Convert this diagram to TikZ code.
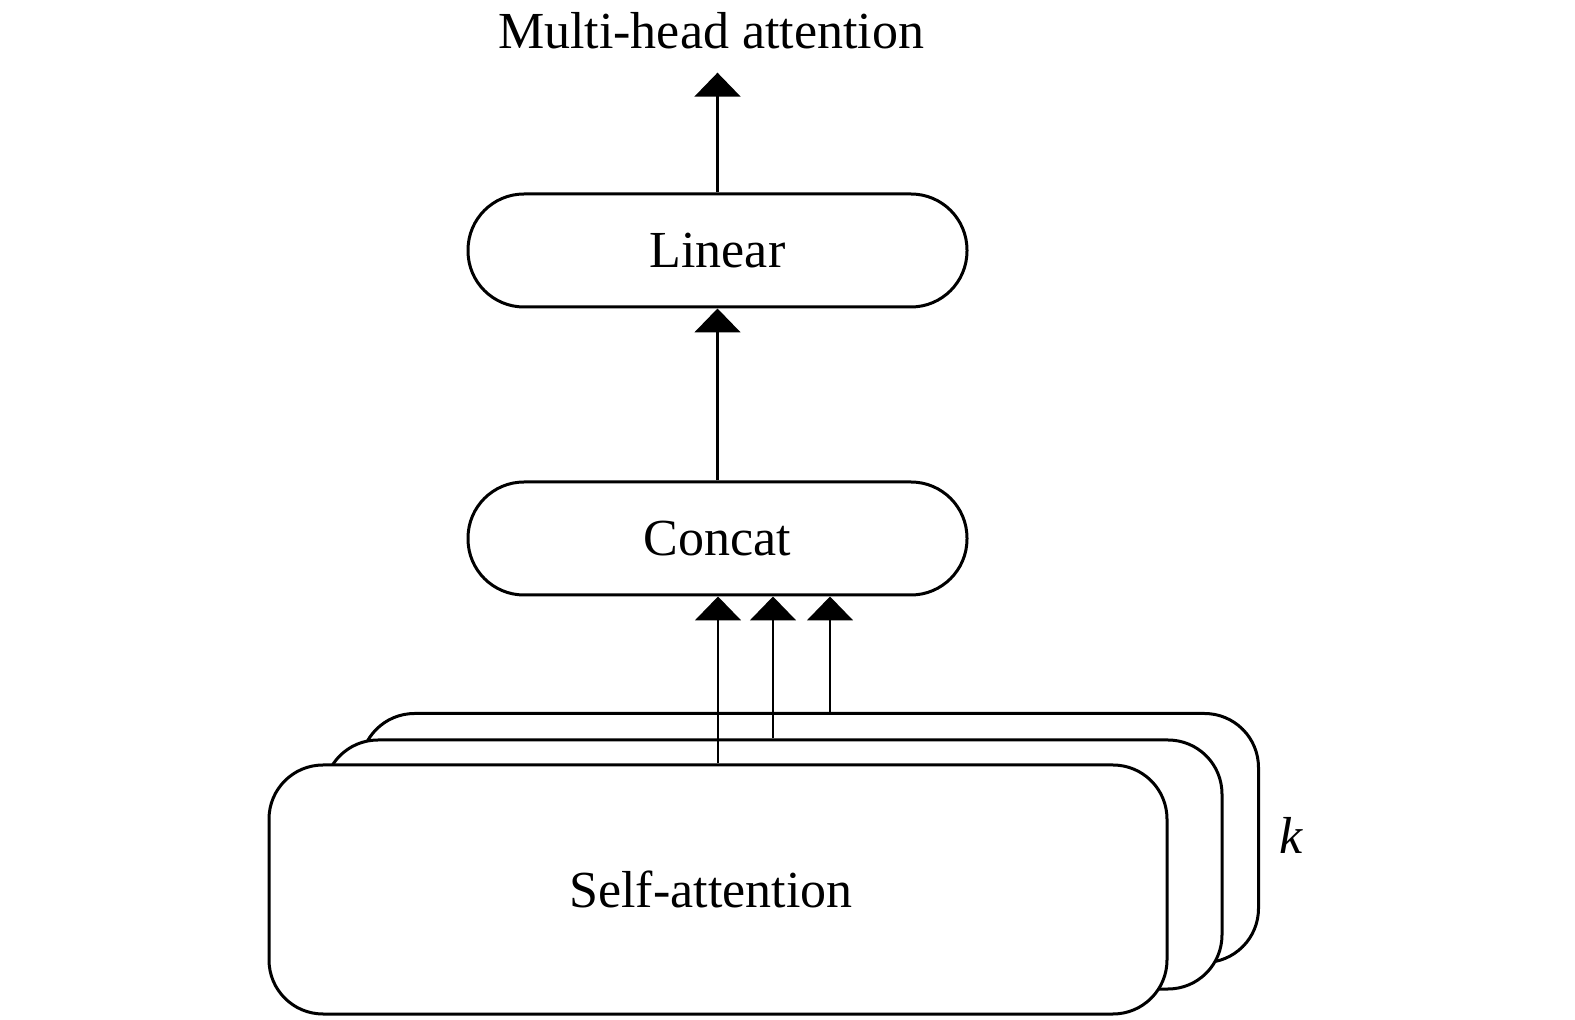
\documentclass[tikz,border=0pt]{standalone}
\usepackage{fontspec}
\setmainfont{Liberation Serif}
\usetikzlibrary{arrows.meta,positioning}
\tikzset{
  pillbox/.style={rectangle, rounded corners=28pt, minimum width=249.5pt, minimum height=56.5pt,
    inner sep=0pt, draw=black, line width=1.5pt, fill=white, font=\fontsize{26}{30}\selectfont},
  headbox/.style={rectangle, rounded corners=27pt, minimum width=449pt, minimum height=124.5pt,
    inner sep=0pt, draw=black, line width=1.5pt, fill=white, font=\fontsize{26}{30}\selectfont},
  plaintext/.style={inner sep=0pt, font=\fontsize{26}{30}\selectfont},
  attarrow/.style={-{Triangle[width=23pt,length=12pt]}, line width=1.1pt}
}
\begin{document}
\begin{tikzpicture}[x=0.5pt, y=-0.5pt]
\useasboundingbox (0,0) rectangle (1575,1020);
\node[plaintext] (title) at (711,31) {Multi-head attention};
\node[pillbox] (linear) at (717.5,250.5) {Linear};
\node[pillbox] (concat) at (717.5,538.5) {Concat};
% k stacked heads
\node[headbox] (back) at (809.5,838) {};
\node[headbox] (mid) at (773,864.5) {};
\node[headbox] (front) at (718,889.5) {};
\node[plaintext] at ([xshift=-3.5pt]front.center) (selfatt) {Self-attention};
\node[plaintext, font=\fontsize{26}{30}\selectfont\itshape] (k) at (1291,835) {k};
\draw[attarrow] (linear.north) -- ([yshift=-11.5pt]linear.north |- title.south);
\draw[attarrow] (concat.north) -- (linear.south);
\draw[attarrow] (front.north) -- (front.north |- concat.south);
\draw[attarrow] (mid.north) -- (mid.north |- concat.south);
\draw[attarrow] ([xshift=10.25pt]back.north) -- ([xshift=10.25pt]back.north |- concat.south);
\end{tikzpicture}
\end{document}
